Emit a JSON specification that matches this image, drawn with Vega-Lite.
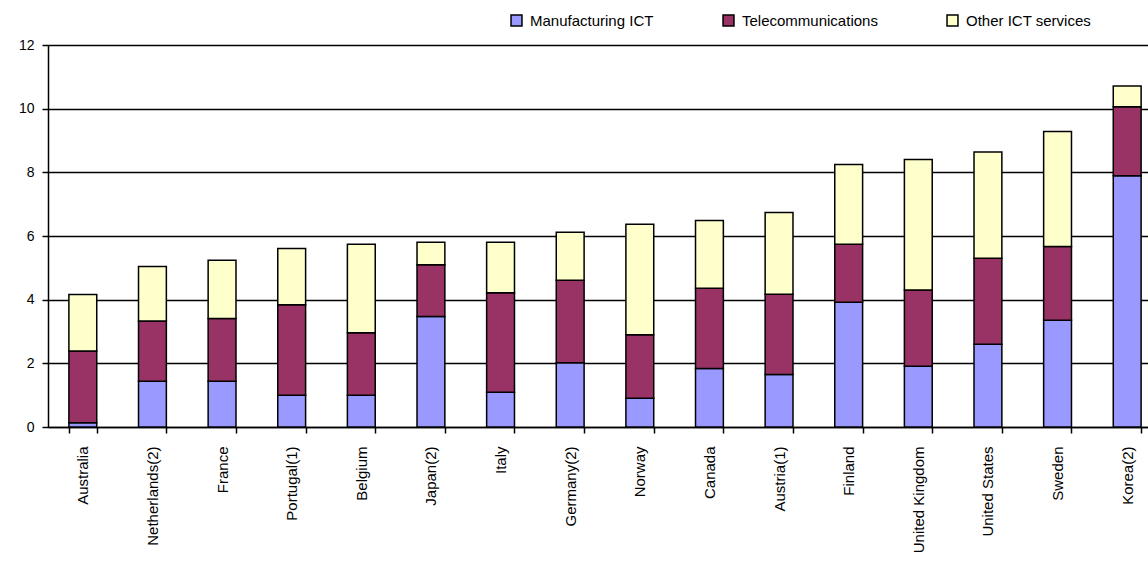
{
  "$schema": "https://vega.github.io/schema/vega-lite/v6.json",
  "autosize": {"type": "none"},
  "width": 1100,
  "height": 382,
  "padding": {"left": 48, "top": 45, "right": 0, "bottom": 137},
  "background": "white",
  "config": {
    "view": {"stroke": null},
    "font": "Liberation Sans"
  },
  "data": {
    "values": [
      {"country": "Australia", "series": "Manufacturing ICT", "value": 0.13, "o": 1},
      {"country": "Australia", "series": "Telecommunications", "value": 2.26, "o": 2},
      {"country": "Australia", "series": "Other ICT services", "value": 1.77, "o": 3},
      {"country": "Netherlands(2)", "series": "Manufacturing ICT", "value": 1.44, "o": 1},
      {"country": "Netherlands(2)", "series": "Telecommunications", "value": 1.89, "o": 2},
      {"country": "Netherlands(2)", "series": "Other ICT services", "value": 1.71, "o": 3},
      {"country": "France", "series": "Manufacturing ICT", "value": 1.44, "o": 1},
      {"country": "France", "series": "Telecommunications", "value": 1.97, "o": 2},
      {"country": "France", "series": "Other ICT services", "value": 1.83, "o": 3},
      {"country": "Portugal(1)", "series": "Manufacturing ICT", "value": 1.0, "o": 1},
      {"country": "Portugal(1)", "series": "Telecommunications", "value": 2.84, "o": 2},
      {"country": "Portugal(1)", "series": "Other ICT services", "value": 1.77, "o": 3},
      {"country": "Belgium", "series": "Manufacturing ICT", "value": 1.0, "o": 1},
      {"country": "Belgium", "series": "Telecommunications", "value": 1.96, "o": 2},
      {"country": "Belgium", "series": "Other ICT services", "value": 2.78, "o": 3},
      {"country": "Japan(2)", "series": "Manufacturing ICT", "value": 3.47, "o": 1},
      {"country": "Japan(2)", "series": "Telecommunications", "value": 1.63, "o": 2},
      {"country": "Japan(2)", "series": "Other ICT services", "value": 0.70, "o": 3},
      {"country": "Italy", "series": "Manufacturing ICT", "value": 1.09, "o": 1},
      {"country": "Italy", "series": "Telecommunications", "value": 3.13, "o": 2},
      {"country": "Italy", "series": "Other ICT services", "value": 1.58, "o": 3},
      {"country": "Germany(2)", "series": "Manufacturing ICT", "value": 2.02, "o": 1},
      {"country": "Germany(2)", "series": "Telecommunications", "value": 2.59, "o": 2},
      {"country": "Germany(2)", "series": "Other ICT services", "value": 1.51, "o": 3},
      {"country": "Norway", "series": "Manufacturing ICT", "value": 0.90, "o": 1},
      {"country": "Norway", "series": "Telecommunications", "value": 2.00, "o": 2},
      {"country": "Norway", "series": "Other ICT services", "value": 3.47, "o": 3},
      {"country": "Canada", "series": "Manufacturing ICT", "value": 1.84, "o": 1},
      {"country": "Canada", "series": "Telecommunications", "value": 2.52, "o": 2},
      {"country": "Canada", "series": "Other ICT services", "value": 2.13, "o": 3},
      {"country": "Austria(1)", "series": "Manufacturing ICT", "value": 1.65, "o": 1},
      {"country": "Austria(1)", "series": "Telecommunications", "value": 2.52, "o": 2},
      {"country": "Austria(1)", "series": "Other ICT services", "value": 2.57, "o": 3},
      {"country": "Finland", "series": "Manufacturing ICT", "value": 3.92, "o": 1},
      {"country": "Finland", "series": "Telecommunications", "value": 1.82, "o": 2},
      {"country": "Finland", "series": "Other ICT services", "value": 2.51, "o": 3},
      {"country": "United Kingdom", "series": "Manufacturing ICT", "value": 1.91, "o": 1},
      {"country": "United Kingdom", "series": "Telecommunications", "value": 2.39, "o": 2},
      {"country": "United Kingdom", "series": "Other ICT services", "value": 4.10, "o": 3},
      {"country": "United States", "series": "Manufacturing ICT", "value": 2.60, "o": 1},
      {"country": "United States", "series": "Telecommunications", "value": 2.70, "o": 2},
      {"country": "United States", "series": "Other ICT services", "value": 3.34, "o": 3},
      {"country": "Sweden", "series": "Manufacturing ICT", "value": 3.35, "o": 1},
      {"country": "Sweden", "series": "Telecommunications", "value": 2.32, "o": 2},
      {"country": "Sweden", "series": "Other ICT services", "value": 3.61, "o": 3},
      {"country": "Korea(2)", "series": "Manufacturing ICT", "value": 7.89, "o": 1},
      {"country": "Korea(2)", "series": "Telecommunications", "value": 2.17, "o": 2},
      {"country": "Korea(2)", "series": "Other ICT services", "value": 0.65, "o": 3}
    ]
  },
  "mark": {"type": "bar", "stroke": "black", "strokeWidth": 1.5},
  "encoding": {
    "x": {
      "field": "country",
      "type": "nominal",
      "sort": null,
      "scale": {"paddingInner": 0.6, "paddingOuter": 0.3, "range": [0, 1114]},
      "axis": {
        "title": null,
        "labelAngle": -90,
        "tickBand": "extent",
        "ticks": true,
        "tickSize": 6,
        "tickWidth": 1.5,
        "tickColor": "black",
        "domainColor": "black",
        "domainWidth": 1.5,
        "labelFont": "Liberation Sans",
        "labelFontSize": 15,
        "labelColor": "black",
        "labelPadding": 13,
        "grid": false
      }
    },
    "y": {
      "field": "value",
      "type": "quantitative",
      "stack": "zero",
      "scale": {"domain": [0, 12], "nice": false},
      "axis": {
        "title": null,
        "values": [0, 2, 4, 6, 8, 10, 12],
        "format": "d",
        "grid": true,
        "gridColor": "black",
        "gridWidth": 1.5,
        "tickSize": 6,
        "tickWidth": 1.5,
        "tickColor": "black",
        "domainColor": "black",
        "domainWidth": 1.5,
        "labelFont": "Liberation Sans",
        "labelFontSize": 14,
        "labelColor": "black",
        "labelPadding": 8
      }
    },
    "color": {
      "field": "series",
      "type": "nominal",
      "scale": {
        "domain": ["Manufacturing ICT", "Telecommunications", "Other ICT services"],
        "range": ["#9999FF", "#993366", "#FFFFCC"]
      },
      "legend": {
        "title": null,
        "orient": "none",
        "legendX": 461,
        "legendY": -32,
        "direction": "horizontal",
        "padding": 0,
        "symbolType": "square",
        "symbolSize": 120,
        "symbolStrokeColor": "black",
        "symbolStrokeWidth": 1.5,
        "labelFont": "Liberation Sans",
        "labelFontSize": 15,
        "labelColor": "black",
        "labelOffset": 6,
        "columnPadding": 66
      }
    },
    "order": {"field": "o", "type": "quantitative"}
  }
}
